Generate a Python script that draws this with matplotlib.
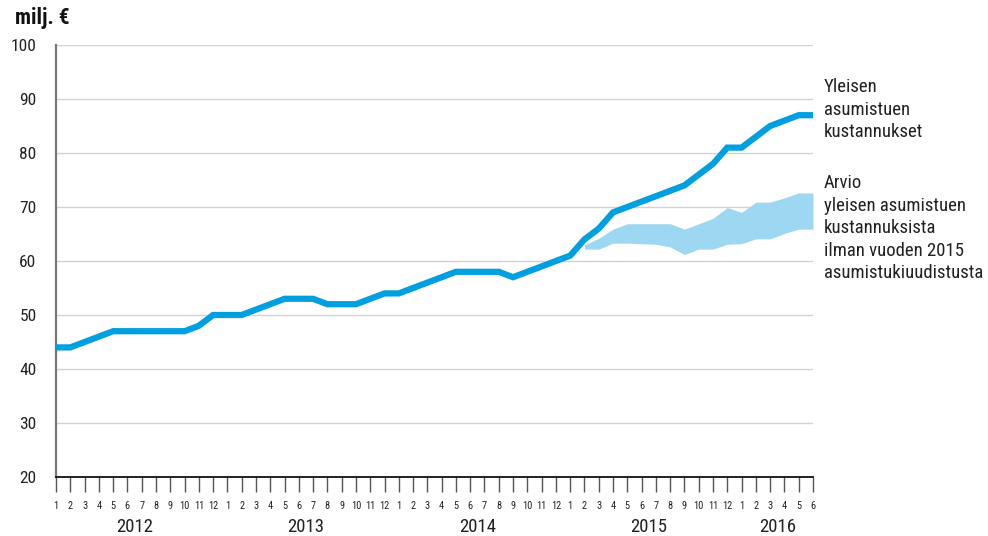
import matplotlib
matplotlib.use("Agg")
from matplotlib import pyplot as plt
from matplotlib import transforms
from matplotlib import font_manager
import numpy as np

# pick a narrow face if one is there
names = set(f.name for f in font_manager.fontManager.ttflist)
narrow = [n for n in ['Roboto Condensed', 'DejaVu Sans Condensed', 'Liberation Sans Narrow',
                      'Open Sans Condensed', 'Liberation Sans'] if n in names]
plt.rcParams['font.family'] = narrow + ['DejaVu Sans']
plt.rcParams['font.stretch'] = 'condensed'

# data, milj. € per month, 1/2012 .. 6/2016
years = ['2012', '2013', '2014', '2015', '2016']
months_per_year = [12, 12, 12, 12, 6]
month_labels = [str(m) for n in months_per_year for m in range(1, n + 1)]

costs = [44, 44, 45, 46, 47, 47, 47, 47, 47, 47, 48, 50,
         50, 50, 51, 52, 53, 53, 53, 52, 52, 52, 53, 54,
         54, 55, 56, 57, 58, 58, 58, 58, 57, 58, 59, 60,
         61, 64, 66, 69, 70, 71, 72, 73, 74, 76, 78, 81,
         81, 83, 85, 86, 87, 87]

# estimate band without the 2015 reform, starts 2/2015
band_start = 37
band_upper = [63.0, 64.2, 65.9, 66.9, 66.9, 66.9, 66.9, 65.9, 66.9, 67.9, 69.9,
              69.0, 70.9, 70.9, 71.7, 72.6, 72.6]
band_lower = [62.2, 62.2, 63.3, 63.3, 63.2, 63.1, 62.6, 61.2, 62.2, 62.2, 63.1,
              63.2, 64.1, 64.1, 65.1, 65.9, 65.9]

line_color = '#009fdf'
band_color = '#9dd7f1'

fig = plt.figure(figsize=(9.88, 5.36), dpi=100)
ax = fig.add_axes([56 / 988, 1 - 477 / 536, 757 / 988, 432 / 536])

x = np.arange(len(costs))
xb = np.arange(band_start, band_start + len(band_upper))
ax.fill_between(xb, band_lower, band_upper, color=band_color, linewidth=0, zorder=2)
ax.plot(x, costs, color=line_color, linewidth=4.5, solid_joinstyle='miter', zorder=3)

ax.set_xlim(0, len(costs) - 1)
ax.set_ylim(20, 100)
ax.set_yticks(range(20, 101, 10))
ax.grid(axis='y', color='#d2d2d2', linewidth=1.0, zorder=0)
ax.set_axisbelow(True)

for s in ['top', 'right']:
    ax.spines[s].set_visible(False)
ax.spines['left'].set_color('#777777')
ax.spines['left'].set_linewidth(1.6)
ax.spines['bottom'].set_color('#111111')
ax.spines['bottom'].set_linewidth(1.3)

ax.tick_params(axis='y', length=0, pad=14, labelsize=12.5, labelcolor='#222222')
ax.set_xticks(x)
ax.set_xticklabels(month_labels, fontsize=7.5, color='#222222')
ax.tick_params(axis='x', direction='out', length=11, width=1.0, color='#555555', pad=6)

# year labels under the months
trans = transforms.blended_transform_factory(ax.transData, ax.transAxes)
start = 0
for yr, n in zip(years, months_per_year):
    ax.text(start + (n - 1) / 2, -0.115, yr, transform=trans, ha='center', va='center',
            fontsize=13.5, color='#222222')
    start += n

fig.text(15 / 988, 1 - 18 / 536, 'milj. €', fontsize=15.5, fontweight='bold', va='center',
         color='#111111')

fig.text(824 / 988, 1 - 78 / 536, 'Yleisen\nasumistuen\nkustannukset', fontsize=13.5,
         va='top', linespacing=1.33, color='#222222')
fig.text(824 / 988, 1 - 174 / 536,
         'Arvio\nyleisen asumistuen\nkustannuksista\nilman vuoden 2015\nasumistukiuudistusta',
         fontsize=13.5, va='top', linespacing=1.33, color='#222222')

fig.savefig('out.png', dpi=100)
